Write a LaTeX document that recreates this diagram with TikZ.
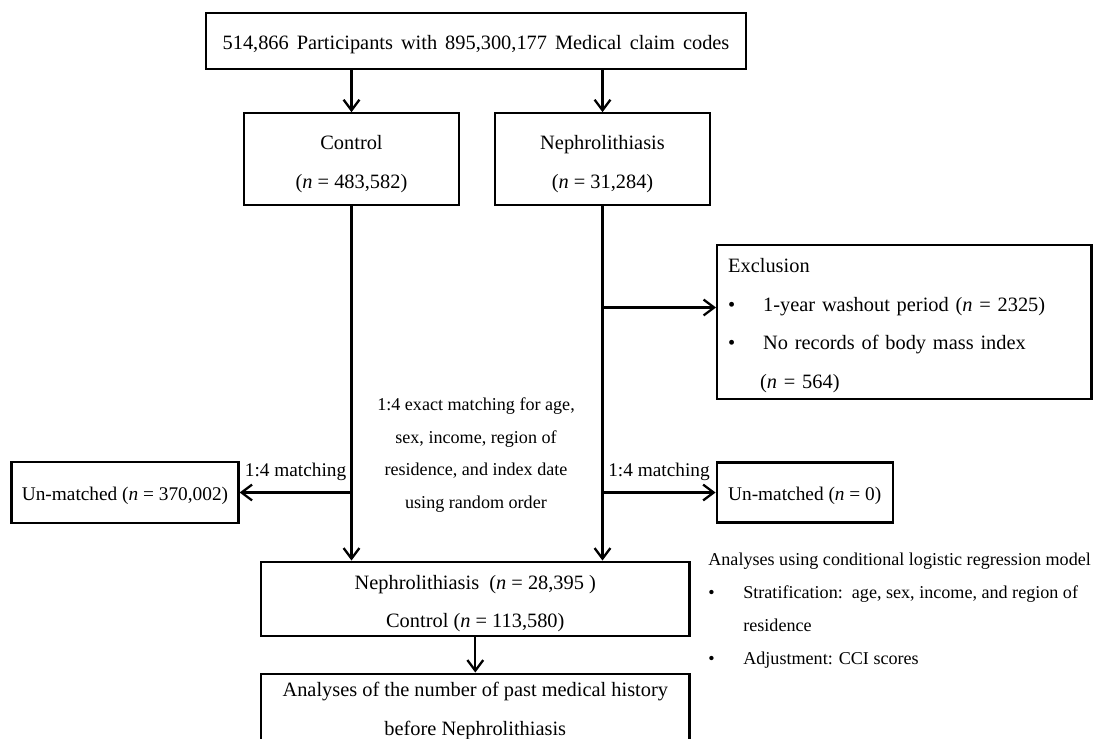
\documentclass[tikz,border=0pt]{standalone}
\usepackage{fontspec}
\setmainfont{Liberation Serif}
\usepackage{tikz}
\usetikzlibrary{arrows.meta}
\newcommand{\bigtxt}{\fontsize{11.6}{22}\selectfont}
\newcommand{\midtxt}{\fontsize{11}{13}\selectfont}
\newcommand{\smalltxt}{\fontsize{10.3}{18.7}\selectfont}
\newcommand{\bul}{\makebox[0.7cm][l]{\textbullet}}
\newcommand{\lowstrut}{\rule{0pt}{12pt}}
\newcommand{\tallstrut}{\rule{0pt}{13.5pt}}
\tikzstyle{flowbox} = [draw=black, line width=1.3pt, rectangle,
    align=center, font=\bigtxt, inner sep=0pt, execute at begin node=\lowstrut]
\tikzstyle{twoline} = [execute at begin node={}]
\tikzstyle{notetext} = [align=left, font=\smalltxt, inner sep=0pt]
\tikzstyle{myarrow} = [line width=1.3pt, -{Straight Barb[length=6pt,width=9pt]}]

\begin{document}
\begin{tikzpicture}[x=0.02cm, y=-0.02cm]
\clip (0,0) rectangle (1095,738);
\node [flowbox, minimum width=10.8cm, minimum height=1.12cm] (all) at (476,41)
    {\spaceskip=0.39em 514,866 Participants with 895,300,177 Medical claim codes};
\node [flowbox, twoline, minimum width=4.3cm, minimum height=1.84cm] (control) at (351.5,159.3)
    {\tallstrut Control\\ (\textit{n} = 483,582)};
\node [flowbox, twoline, minimum width=4.3cm, minimum height=1.84cm] (nephro) at (602.5,159.3)
    {\tallstrut Nephrolithiasis\\ (\textit{n} = 31,284)};
\node [flowbox, align=left, text width=7.05cm, inner xsep=0.22cm, minimum height=3.09cm] (excl) at (904.4,322)
    {Exclusion\\
     \bul 1-year washout period (\textit{n} = 2325)\\
     \bul No records of body mass index\\
     \hspace*{0.64cm}(\textit{n} = 564)};
\node [flowbox, font=\midtxt, minimum width=4.54cm, minimum height=1.22cm] (unctl) at (125,492.5)
    {Un-matched (\textit{n} = 370,002)};
\node [flowbox, font=\midtxt, minimum width=3.52cm, minimum height=1.2cm] (uncase) at (804.7,492.5)
    {Un-matched (\textit{n} = 0)};
\node [notetext, align=center] (matchtext) at (476,455)
    {1:4 exact matching for age,\\ sex, income, region of\\ residence, and index date\\ using random order};
\node [flowbox, twoline, minimum width=8.57cm, minimum height=1.49cm] (merged) at (475.3,598.9)
    {\tallstrut Nephrolithiasis\ \ (\textit{n} = 28,395\ )\\ Control (\textit{n} = 113,580)};
\node [flowbox, anchor=north, minimum width=8.57cm, minimum height=1.5cm] (final) at (475.3,672.5)
    {Analyses of the number of past medical history\\ before Nephrolithiasis};
\node [notetext, anchor=north west] (analyses) at (708,553)
    {Analyses using conditional logistic regression model\\
     \bul Stratification:\ \ age, sex, income, and region of\\
     \hspace*{0.7cm}residence\\
     \bul Adjustment: CCI scores};

% forks on the vertical lines
\coordinate (exfork) at (nephro.south |- 0,307.5);
\coordinate (ctlfork) at (control.south |- unctl.east);
\coordinate (nepfork) at (nephro.south |- uncase.west);

\draw [myarrow] (all.south -| control.north) -- (control.north);
\draw [myarrow] (all.south -| nephro.north) -- (nephro.north);
\draw [myarrow] (control.south) -- (control.south |- merged.north);
\draw [myarrow] (nephro.south) -- (nephro.south |- merged.north);
\draw [myarrow] (exfork) -- (exfork -| excl.west);
\draw [myarrow] (ctlfork) -- (unctl.east)
    node [midway, above=3pt, font=\midtxt] {1:4 matching};
\draw [myarrow] (nepfork) -- (uncase.west)
    node [midway, above=3pt, font=\midtxt] {1:4 matching};
\draw [myarrow] (merged.south) -- (final.north);
\end{tikzpicture}
\end{document}
